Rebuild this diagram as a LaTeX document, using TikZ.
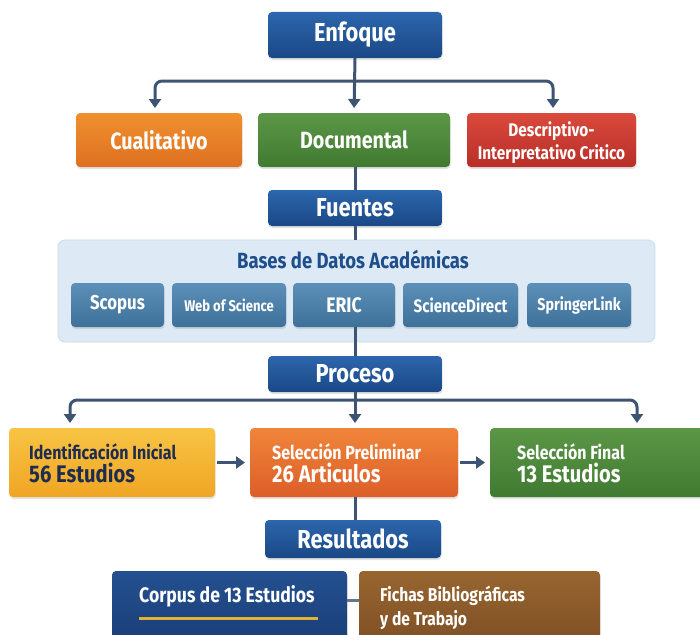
\documentclass[tikz,border=0pt]{standalone}
\usepackage{fontspec}
\setmainfont{Fira Sans}[FakeStretch=0.84]
\usetikzlibrary{arrows.meta,shadows,calc}
\definecolor{hdrT}{HTML}{2C66AC}
\definecolor{hdrB}{HTML}{1A4886}
\definecolor{orT}{HTML}{F0902F}
\definecolor{orB}{HTML}{DE7020}
\definecolor{grT}{HTML}{5C9747}
\definecolor{grB}{HTML}{3F7A31}
\definecolor{rdT}{HTML}{DA4A3C}
\definecolor{rdB}{HTML}{B82E28}
\definecolor{dbT}{HTML}{5D90B8}
\definecolor{dbB}{HTML}{3E719A}
\definecolor{panelF}{HTML}{DDE9F4}
\definecolor{panelD}{HTML}{CADAEA}
\definecolor{titleB}{HTML}{1F4E8C}
\definecolor{yeT}{HTML}{F8C444}
\definecolor{yeB}{HTML}{F0A524}
\definecolor{o2T}{HTML}{F0853A}
\definecolor{o2B}{HTML}{DC5E28}
\definecolor{navyT}{HTML}{245090}
\definecolor{navyB}{HTML}{183C74}
\definecolor{brT}{HTML}{98652F}
\definecolor{brB}{HTML}{7C4E25}
\definecolor{conncol}{HTML}{3D5473}
\definecolor{darktext}{HTML}{1E2D4F}
\definecolor{goldline}{HTML}{E2B236}
\begin{document}
\begin{tikzpicture}[x=1pt,y=-1pt,
  box/.style={rounded corners=4pt, inner sep=0pt, outer sep=0pt, text=white,
    font=\bfseries, align=center,
    drop shadow={opacity=0.22, shadow xshift=0.6pt, shadow yshift=-2pt}},
  hdr/.style={box, top color=hdrT, bottom color=hdrB, minimum width=174pt,
    font=\bfseries\fontsize{26}{30}\selectfont},
  dbbox/.style={box, top color=dbT, bottom color=dbB, minimum height=44pt},
  procbox/.style={box, minimum height=69pt},
  proctext/.style={anchor=west, align=left, inner sep=0pt, text=white,
    font=\bfseries\fontsize{19}{23}\selectfont},
  conn/.style={draw=conncol, line width=3pt},
  arr/.style={conn, -{Triangle[width=12pt,length=9pt]}, shorten >=5pt},
]
\useasboundingbox (0,0) rectangle (700,634);
\fill[white] (0,0) rectangle (700,634);

% --- Enfoque level
\node[hdr, minimum height=46pt] (enf) at (355,35) {Enfoque};
\node[box, top color=orT, bottom color=orB, minimum width=166pt, minimum height=54pt,
  font=\bfseries\fontsize{23.5}{26}\selectfont] (cual) at (159,140) {Cualitativo};
\node[box, top color=grT, bottom color=grB, minimum width=192pt, minimum height=54pt,
  font=\bfseries\fontsize{23.5}{26}\selectfont] (docu) at (354,140) {Documental};
\node[box, top color=rdT, bottom color=rdB, minimum width=169pt, minimum height=54pt] (desc) at (551.5,140) {};
\node[text=white, align=center, inner sep=0pt,
  font=\bfseries\fontsize{18.3}{23}\selectfont] (desct) at (551.5,143) {Descriptivo-\\Interpretativo Critico};

\coordinate (tm) at (355,81);
\coordinate (tl) at (155,81);
\coordinate (tr) at (553,81);
\draw[arr] (enf.south) -- (docu.north);
\draw[arr, rounded corners=7pt] (tm) -| (tl |- cual.north);
\draw[arr, rounded corners=7pt] (tm) -| (tr |- desc.north);

% --- Fuentes
\node[hdr, minimum height=36pt] (fue) at (355,208) {Fuentes};
\draw[conn] (docu.south -| fue.north) -- (fue.north);

\node[rounded corners=7pt, fill=panelF, draw=panelD, line width=0.8pt,
  minimum width=597pt, minimum height=102pt, inner sep=0pt] (panel) at (356.5,291) {};
\draw[conn] (fue.south) -- (fue.south |- panel.north);
\node[text=titleB, font=\bfseries\fontsize{22}{26}\selectfont] (ptitle) at (353,259) {Bases de Datos Académicas};

\node[dbbox, minimum width=93pt, font=\bfseries\fontsize{20}{24}\selectfont] (sco) at (117.5,305) {Scopus};
\node[dbbox, minimum width=114pt, font=\bfseries\fontsize{15.5}{18}\selectfont] (wos) at (229,305) {Web of Science};
\node[dbbox, minimum width=102pt, font=\bfseries\fontsize{21}{24}\selectfont] (eric) at (344,305) {ERIC};
\node[dbbox, minimum width=115pt, font=\bfseries\fontsize{18}{22}\selectfont] (sd) at (460.5,305) {ScienceDirect};
\node[dbbox, minimum width=104pt, font=\bfseries\fontsize{17}{20}\selectfont] (sl) at (579,305) {SpringerLink};

% --- Proceso
\node[hdr, minimum height=36pt] (proc) at (355,374) {Proceso};
\draw[conn] (eric.south -| proc.north) -- (proc.north);

\node[procbox, top color=yeT, bottom color=yeB, minimum width=206pt] (ident) at (112,462.5) {};
\node[procbox, top color=o2T, bottom color=o2B, minimum width=208pt] (prel) at (354,462.5) {};
\node[procbox, top color=grT, bottom color=grB, minimum width=222pt] (fin) at (601,462.5) {};
\node[proctext, text=darktext] (identt) at ([xshift=20pt,yshift=-1pt]ident.west)
  {Identificación Inicial\\{\fontsize{24}{23}\selectfont 56 Estudios}};
\node[proctext] (prelt) at ([xshift=22pt,yshift=-1pt]prel.west)
  {Selección Preliminar\\{\fontsize{24}{23}\selectfont 26 Articulos}};
\node[proctext] (fint) at ([xshift=27pt,yshift=-1pt]fin.west)
  {Selección Final\\{\fontsize{24}{23}\selectfont 13 Estudios}};

\coordinate (pm) at (355,400);
\coordinate (pl) at (70,400);
\coordinate (pr) at (637,400);
\draw[arr] (proc.south) -- (prel.north -| proc.south);
\draw[arr, rounded corners=7pt] (pm) -| (pl |- ident.north);
\draw[arr, rounded corners=7pt] (pm) -| (pr |- fin.north);
\draw[arr, shorten <=2pt] (ident.east) -- (prel.west);
\draw[arr, shorten <=2pt] (prel.east) -- (fin.west);

% --- Resultados
\node[hdr, minimum width=176pt, minimum height=38pt] (res) at (353,539) {Resultados};
\draw[conn] (prel.south -| proc.south) -- (res.north -| proc.south);

\node[box, top color=navyT, bottom color=navyB, minimum width=235pt, minimum height=80pt] (corp) at (229.5,611) {};
\node[box, top color=brT, bottom color=brB, minimum width=241pt, minimum height=80pt] (fich) at (479.5,611) {};
\coordinate (cf) at (347,600);
\draw[draw=conncol!80, line width=3pt] (cf) -- (cf -| fich.west);

\node[anchor=west, text=white, font=\bfseries\fontsize{21}{24}\selectfont, inner sep=0pt] (corpt) at (139,596) {Corpus de 13 Estudios};
\coordinate (ul) at (139,618);
\coordinate (ur) at (318,618);
\draw[goldline, line width=3pt] (ul) -- (ur);
\node[anchor=west, text=white, align=left, font=\bfseries\fontsize{18.6}{24}\selectfont, inner sep=0pt] (ficht) at (380,608) {Fichas Bibliográficas\\y de Trabajo};
\end{tikzpicture}
\end{document}
